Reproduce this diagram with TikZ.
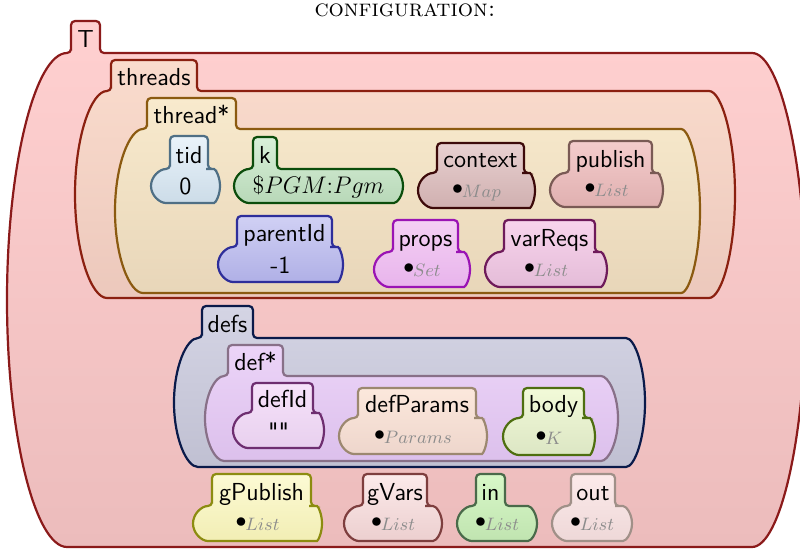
\documentclass[tikz,border=0pt]{standalone}
\usepackage{xcolor}
% colours: <name>A top fill, <name>B bottom fill, <name>D border
\definecolor{TA}{HTML}{FFD0D0}\definecolor{TB}{HTML}{ECBCBC}\definecolor{TD}{HTML}{8B1A1A}
\definecolor{thsA}{HTML}{FADCCD}\definecolor{thsB}{HTML}{ECC8BC}\definecolor{thsD}{HTML}{8B2010}
\definecolor{thA}{HTML}{F8EACD}\definecolor{thB}{HTML}{E8D6B9}\definecolor{thD}{HTML}{8B5A10}
\definecolor{tidA}{HTML}{EAF3FA}\definecolor{tidB}{HTML}{CCDCE8}\definecolor{tidD}{HTML}{4F6F85}
\definecolor{kA}{HTML}{D8F0D8}\definecolor{kB}{HTML}{B8D8B8}\definecolor{kD}{HTML}{0B4D0B}
\definecolor{ctxA}{HTML}{E8D0D0}\definecolor{ctxB}{HTML}{D0B0B0}\definecolor{ctxD}{HTML}{3D0A0A}
\definecolor{pubA}{HTML}{F4CCCC}\definecolor{pubB}{HTML}{E0B0B0}\definecolor{pubD}{HTML}{7A5A55}
\definecolor{parA}{HTML}{D0D0F4}\definecolor{parB}{HTML}{B0B0E6}\definecolor{parD}{HTML}{2E2E9A}
\definecolor{prA}{HTML}{F4D0F4}\definecolor{prB}{HTML}{E8B4EC}\definecolor{prD}{HTML}{9A14B4}
\definecolor{vrA}{HTML}{F8D4EC}\definecolor{vrB}{HTML}{E4BCD8}\definecolor{vrD}{HTML}{6E1A5A}
\definecolor{dsA}{HTML}{D4D4E4}\definecolor{dsB}{HTML}{C0C0D2}\definecolor{dsD}{HTML}{0A1A4A}
\definecolor{dA}{HTML}{ECD4F8}\definecolor{dB}{HTML}{DCC0EC}\definecolor{dD}{HTML}{887088}
\definecolor{diA}{HTML}{F6E2FA}\definecolor{diB}{HTML}{E8D0EE}\definecolor{diD}{HTML}{6E2E70}
\definecolor{dpA}{HTML}{FCE8DC}\definecolor{dpB}{HTML}{EED6CC}\definecolor{dpD}{HTML}{9C8870}
\definecolor{bdA}{HTML}{F2FAD8}\definecolor{bdB}{HTML}{DCE6C4}\definecolor{bdD}{HTML}{4E6E10}
\definecolor{gpA}{HTML}{FCFAD4}\definecolor{gpB}{HTML}{F2EEB4}\definecolor{gpD}{HTML}{8C8C10}
\definecolor{gvA}{HTML}{FCEAEA}\definecolor{gvB}{HTML}{ECCFCF}\definecolor{gvD}{HTML}{7E3E3E}
\definecolor{inA}{HTML}{D8F8C8}\definecolor{inB}{HTML}{C0E4B0}\definecolor{inD}{HTML}{4A6A4A}
\definecolor{outA}{HTML}{FCEAEA}\definecolor{outB}{HTML}{EED8D8}\definecolor{outD}{HTML}{A09088}
\definecolor{sortgray}{HTML}{8C8C8C}

% #1 colour prefix, #2 tab left, #3 tab right, #4 tab top, #5 body top,
% #6 body bottom, #7 body right corner, #8 left cap radius, #9 right cap radius
\newcommand\kshape[9]{%
  \path[kcell,draw=#1D,top color=#1A,bottom color=#1B]
    (#2,#5) -- (#2,#4) -- (#3,#4) -- (#3,#5) -- (#7,#5)
    arc[start angle=-90,end angle=90,x radius=#9,y radius={(#6-#5)/2}]
    -- (#2,#6)
    arc[start angle=90,end angle=270,x radius=#8,y radius={(#6-#5)/2}]
    -- cycle;}
\newcommand\ksort[1]{\raisebox{1.2pt}{\fontsize{10.5}{12}\selectfont$\bullet$}\kern-0.6pt\textcolor{sortgray}{$#1$}}

\tikzset{
  kcell/.style={line width=1.1pt, rounded corners=2pt},
  lab/.style={anchor=base, inner sep=0pt, font=\sffamily\fontsize{12.3}{14}\selectfont},
  srt/.style={anchor=base, inner sep=0pt, font=\fontsize{8.6}{10}\selectfont},
}

\begin{document}
\begin{tikzpicture}[x=0.5pt,y=-0.5pt]
\clip (0,0) rectangle (800,552);

\node[anchor=base, inner sep=0pt, font=\fontsize{12}{14}\selectfont] (title) at (405,16) {\textsc{configuration:}};

% outer cells
\kshape{T}{71}{100}{21}{53}{547}{748}{64}{58}
\kshape{ths}{111}{197}{60}{91}{298}{705}{36}{30}
\kshape{th}{147}{236}{98}{129}{293}{677}{32}{23}
% thread contents
\kshape{tid}{170}{208}{136}{169}{203}{210}{19}{10}
\kshape{k}{253}{277}{137}{169}{203}{390}{19}{13}
\kshape{ctx}{437}{524}{143}{173}{208}{526}{19}{9}
\kshape{pub}{569}{652}{141}{173}{207}{654}{19}{9}
\kshape{par}{237}{332}{216}{247}{282}{334}{19}{9}
\kshape{pr}{393}{458}{220}{252}{287}{460}{19}{10}
\kshape{vr}{504}{595}{220}{252}{287}{597}{19}{10}
% defs
\kshape{ds}{202}{253}{306}{338}{467}{622}{28}{23}
\kshape{d}{228}{283}{345}{376}{461}{597}{23}{21}
\kshape{di}{252}{313}{383}{413}{448}{315}{19}{9}
\kshape{dp}{358}{476}{388}{418}{454}{478}{19}{9}
\kshape{bd}{523}{584}{388}{418}{455}{586}{20}{9}
% globals
\kshape{gp}{212}{311}{474}{506}{541}{313}{19}{9}
\kshape{gv}{363}{427}{474}{506}{541}{429}{19}{13}
\kshape{in}{476}{505}{474}{506}{541}{524}{19}{13}
\kshape{out}{571}{615}{474}{506}{541}{619}{19}{13}

% labels
\node[lab] (lT) at (85.5,47.5) {T};
\node[lab] (lthreads) at (154,85.5) {threads};
\node[lab] (lthread) at (191.5,123.5) {thread*};
\node[lab] (ltid) at (189,163.5) {tid};
\node[lab] (lk) at (265,163.5) {k};
\node[lab] (lctx) at (480.5,167.5) {context};
\node[lab] (lpub) at (610.5,167.5) {publish};
\node[lab] (lpar) at (284.5,241.5) {parentId};
\node[lab] (lpr) at (425.5,246.5) {props};
\node[lab] (lvr) at (549.5,246.5) {varReqs};
\node[lab] (ldefs) at (227.5,332.5) {defs};
\node[lab] (ldef) at (255.5,370.5) {def*};
\node[lab] (ldi) at (282.5,407.5) {defId};
\node[lab] (ldp) at (417,412.5) {defParams};
\node[lab] (lbd) at (553.5,412.5) {body};
\node[lab] (lgp) at (261.5,500.5) {gPublish};
\node[lab] (lgv) at (395,500.5) {gVars};
\node[lab] (lin) at (490.5,500.5) {in};
\node[lab] (lout) at (593,500.5) {out};

% contents
\node[lab] (vtid) at (185.5,194) {0};
\node[lab] (vk) at (318.5,193) {$\$PGM{:}Pgm$};
\node[srt] (vctx) at (476.5,197) {\ksort{Map}};
\node[srt] (vpub) at (606.5,196) {\ksort{List}};
\node[lab] (vpar) at (280.5,273) {-1};
\node[srt] (vpr) at (422,276) {\ksort{Set}};
\node[srt] (vvr) at (546,276) {\ksort{List}};
\node[lab] (vdi) at (278.5,440) {\textquotedbl\textquotedbl};
\node[srt] (vdp) at (413,443) {\ksort{Params}};
\node[srt] (vbd) at (549,444) {\ksort{K}};
\node[srt] (vgp) at (257.5,530) {\ksort{List}};
\node[srt] (vgv) at (393,530) {\ksort{List}};
\node[srt] (vin) at (497,530) {\ksort{List}};
\node[srt] (vout) at (592,530) {\ksort{List}};
\end{tikzpicture}
\end{document}
